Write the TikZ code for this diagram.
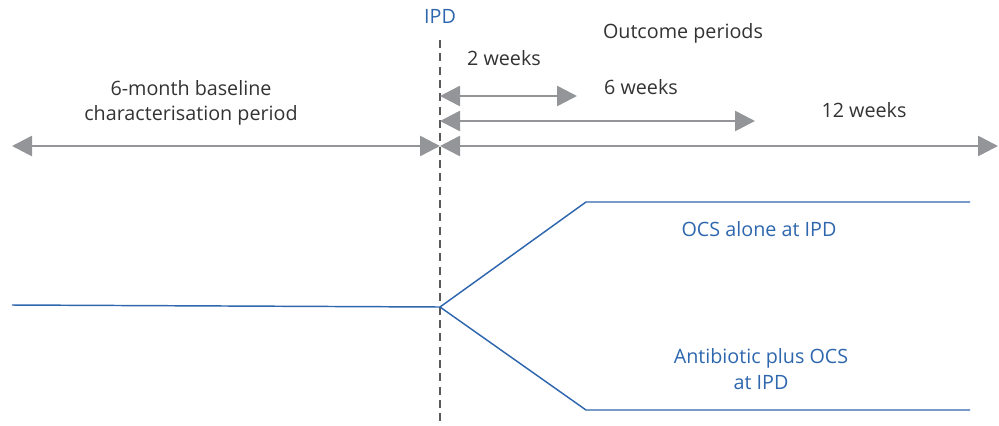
\documentclass[tikz,border=0pt]{standalone}
\usepackage{fontspec}
\setmainfont{Open Sans}
\usetikzlibrary{arrows.meta}
\definecolor{arrgray}{HTML}{939598}
\definecolor{lineblue}{HTML}{2E67AD}
\definecolor{txt}{HTML}{333333}
\tikzset{
  period/.style={draw=arrgray, line width=2.6pt*0.75, {Triangle[length=15pt,width=15pt]}-{Triangle[length=15pt,width=15pt]}},
  lbl/.style={text=txt, font=\fontsize{14.8pt}{19pt}\selectfont, inner sep=0pt, align=center},
  blbl/.style={text=lineblue, font=\fontsize{14.8pt}{19pt}\selectfont, inner sep=0pt, align=center},
  course/.style={draw=lineblue, line width=1.1pt},
}
\begin{document}
\begin{tikzpicture}[x=0.75pt,y=-0.75pt]
\useasboundingbox (0,0) rectangle (999,425);
% coordinates
\coordinate (ipdtop) at (440,40);
\coordinate (ipdbot) at (440,425);
\coordinate (b0) at (12,146);
\coordinate (b1) at (440,146);
\coordinate (w2s) at (440,96);
\coordinate (w2e) at (577,96);
\coordinate (w6s) at (440,121);
\coordinate (w6e) at (755,121);
\coordinate (w12s) at (440,146);
\coordinate (w12e) at (998,146);
\coordinate (s0) at (12,305);
\coordinate (split) at (440,307);
\coordinate (u1) at (586,202);
\coordinate (u2) at (970,202);
\coordinate (l1) at (586,410);
\coordinate (l2) at (970,410);
% dashed IPD line
\draw[draw=black!65, line width=1.5pt*0.75, dash pattern=on 6pt off 4pt] (ipdtop) -- (ipdbot);
\node[blbl] (ipd) at (440,16) {IPD};
% arrows
\draw[period] (b0) -- (b1);
\draw[period] (w2s) -- (w2e);
\draw[period] (w6s) -- (w6e);
\draw[period] (w12s) -- (w12e);
% labels
\node[lbl] (outc) at (683,33) {Outcome periods};
\node[lbl] (t2) at (504,58) {2 weeks};
\node[lbl] (t6) at (641,87) {6 weeks};
\node[lbl] (t12) at (864,110) {12 weeks};
\node[lbl] (base) at (191,103) {6-month baseline\\characterisation period};
% course lines
\draw[course] (s0) -- (split);
\draw[course] (split) -- (u1) -- (u2);
\draw[course] (split) -- (l1) -- (l2);
\node[blbl] (ocs) at (759,229) {OCS alone at IPD};
\node[blbl] (abx) at (761,369) {Antibiotic plus OCS\\at IPD};
\end{tikzpicture}
\end{document}
